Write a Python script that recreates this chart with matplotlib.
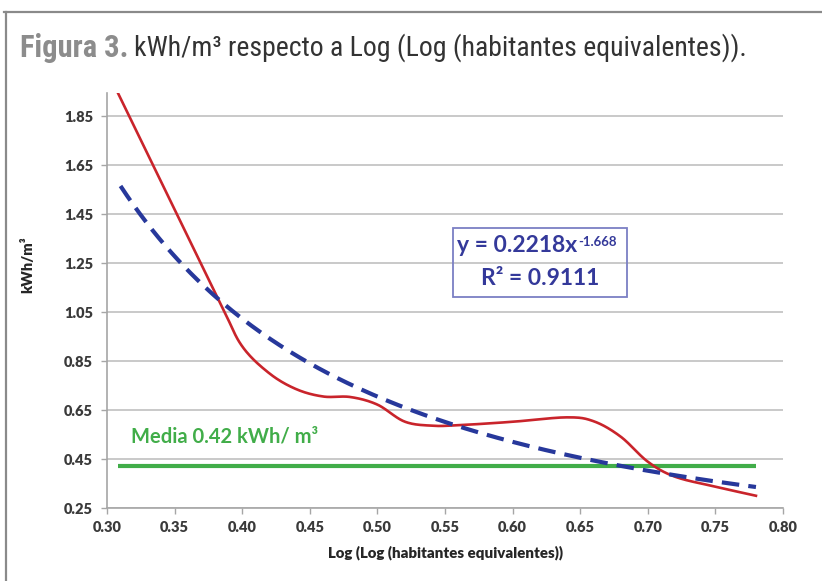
import numpy as np
import matplotlib
matplotlib.use("Agg")
import matplotlib.pyplot as plt
from matplotlib import font_manager as fm
from matplotlib.lines import Line2D

# ---------------- data ----------------
red_x = [0.308, 0.350, 0.385, 0.400, 0.420, 0.440, 0.460, 0.480, 0.500, 0.520,
         0.540, 0.560, 0.600, 0.640, 0.660, 0.680, 0.700, 0.720, 0.750, 0.780]
red_y = [1.945, 1.469, 1.073, 0.910, 0.800, 0.735, 0.705, 0.703, 0.672, 0.603,
         0.586, 0.588, 0.602, 0.620, 0.604, 0.541, 0.439, 0.378, 0.337, 0.300]
trend_a = 0.2218
trend_b = -1.668
trend_r2 = 0.9111
trend_range = [0.31, 0.78]
mean_value = 0.42
mean_range = [0.308, 0.78]
x_ticks = [0.30, 0.35, 0.40, 0.45, 0.50, 0.55, 0.60, 0.65, 0.70, 0.75, 0.80]
y_ticks = [0.25, 0.45, 0.65, 0.85, 1.05, 1.25, 1.45, 1.65, 1.85]

avail = {f.name for f in fm.fontManager.ttflist}
def pick(*names):
    for n in names:
        if n in avail:
            return n
    return "DejaVu Sans"
title_font = pick("Liberation Sans Narrow", "Roboto Condensed", "Open Sans Condensed", "DejaVu Sans")
chart_font = pick("Lato", "Open Sans", "Liberation Sans")

def smooth(xs, ys, n=30):
    P = np.column_stack([xs, ys]).astype(float)
    P = np.vstack([P[0], P, P[-1]])
    out = []
    t = np.linspace(0, 1, n)[:, None]
    for i in range(1, len(P) - 2):
        p0, p1, p2, p3 = P[i - 1], P[i], P[i + 1], P[i + 2]
        c1 = p1 + (p2 - p0) / 6.0
        c2 = p2 - (p3 - p1) / 6.0
        seg = ((1 - t) ** 3) * p1 + 3 * ((1 - t) ** 2) * t * c1 + 3 * (1 - t) * t ** 2 * c2 + t ** 3 * p2
        out.append(seg if i == 1 else seg[1:])
    S = np.vstack(out)
    return S[:, 0], S[:, 1]

W, H = 822, 581
fig = plt.figure(figsize=(W / 100, H / 100), dpi=100)
fig.patch.set_facecolor("white")
renderer = fig.canvas.get_renderer()

# outer frame (top and left)
fig.add_artist(Line2D([4 / W, 1.0], [1 - 12 / H, 1 - 12 / H], color="#8a8a8a", lw=1.6, transform=fig.transFigure))
fig.add_artist(Line2D([6 / W, 6 / W], [0, 1 - 12 / H], color="#8a8a8a", lw=1.6, transform=fig.transFigure))

# title
t1 = fig.text(20 / W, 1 - 48 / H, "Figura 3.", fontsize=22, fontweight="bold", color="#8c8c8c",
              family=title_font, va="center", ha="left")
bb = t1.get_window_extent(renderer)
fig.text((bb.x1 + 5) / W, 1 - 48 / H, "kWh/m³ respecto a Log (Log (habitantes equivalentes)).",
         fontsize=20, color="#333333", family=title_font, va="center", ha="left")

ax = fig.add_axes([107 / W, 1 - 508 / H, (783 - 107) / W, (508 - 93) / H])
ax.set_xlim(0.30, 0.80)
ax.set_ylim(0.25, 1.944)
ax.set_xticks(x_ticks)
ax.set_yticks(y_ticks)
ax.set_xticklabels([f"{v:.2f}" for v in x_ticks])
ax.set_yticklabels([f"{v:.2f}" for v in y_ticks])
for s in ["top", "right"]:
    ax.spines[s].set_visible(False)
for s in ["left", "bottom"]:
    ax.spines[s].set_color("#a6a6a6")
    ax.spines[s].set_linewidth(1.2)
ax.tick_params(axis="both", colors="#a6a6a6", length=4, width=1.0, labelcolor="#3a3a3a",
               labelsize=10.5)
ax.tick_params(axis="x", pad=5)
ax.tick_params(axis="y", pad=6)
for lab in ax.get_xticklabels() + ax.get_yticklabels():
    lab.set_fontweight("heavy")
    lab.set_family(chart_font)
ax.yaxis.grid(True, color="#c9c9c9", lw=1.4)
ax.set_axisbelow(True)

# mean line
ax.plot(mean_range, [mean_value, mean_value], color="#41ad49", lw=3.0, solid_capstyle="butt", zorder=2)
# red smoothed series
sx, sy = smooth(red_x, red_y)
ax.plot(sx, sy, color="#c9242b", lw=1.9, zorder=3)
# power trendline from the displayed equation
tx = np.linspace(trend_range[0], trend_range[1], 200)
ty = trend_a * tx ** trend_b
ax.plot(tx, ty, color="#27389b", lw=3.0, dashes=(4.2, 2.2), zorder=4)

ax.text(0.318, 0.54, "Media 0.42 kWh/ m³", color="#41ad49", fontsize=14.5, fontweight="bold",
        family=chart_font, va="center", ha="left")

# equation box
eq_color = "#34399a"
fig.add_artist(plt.Rectangle((453 / W, 1 - 297 / H), (627 - 453) / W, (297 - 228) / H,
                             fill=False, edgecolor="#7b7fc4", lw=1.3, transform=fig.transFigure))
e1 = fig.text(457 / W, 1 - 245 / H, "y = 0.2218x", color=eq_color, fontsize=16.5,
              fontweight="bold", family=chart_font, ha="left", va="center")
eb = e1.get_window_extent(renderer)
fig.text((eb.x1 + 1) / W, (eb.y1 - 1) / H, "-1.668", color=eq_color, fontsize=9.5,
         fontweight="bold", family=chart_font, ha="left", va="top")
fig.text(540 / W, 1 - 278 / H, "R² = 0.9111", color=eq_color, fontsize=16.5,
         fontweight="bold", family=chart_font, ha="center", va="center")

# axis labels
fig.text(445 / W, 1 - 553 / H, "Log (Log (habitantes equivalentes))", fontsize=10.8, fontweight="heavy",
         color="#262626", family=chart_font, ha="center", va="center")
fig.text(27 / W, 1 - 265 / H, "kWh/m³", fontsize=10.5, fontweight="heavy", color="#262626",
         family=chart_font, ha="center", va="center", rotation=90)

fig.savefig("out.png", dpi=100)
